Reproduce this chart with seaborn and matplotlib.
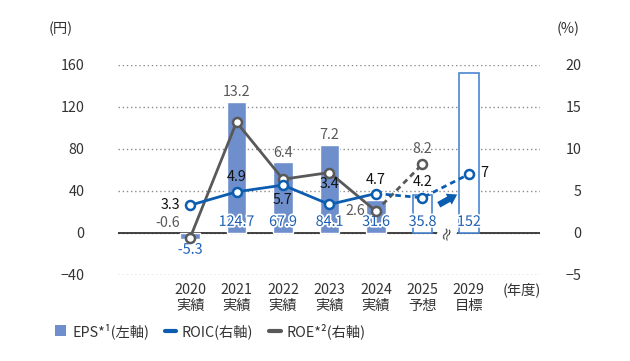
import numpy as np
import pandas as pd
import matplotlib
matplotlib.use('Agg')
import matplotlib.pyplot as plt
import seaborn as sns
import matplotlib.patheffects as pe
from matplotlib.patches import Patch
from matplotlib.lines import Line2D

sns.set_style('white')
plt.rcParams['font.family'] = ['Noto Sans CJK JP', 'DejaVu Sans']
plt.rcParams['axes.unicode_minus'] = True

# data
years = ['2020\n実績', '2021\n実績', '2022\n実績', '2023\n実績', '2024\n実績', '2025\n予想', '2029\n目標']
eps = [-5.3, 124.7, 67.9, 84.1, 31.6, 35.8, 152]
roic = [3.3, 4.9, 5.7, 3.4, 4.7, 4.2, 7]
roe = [-0.6, 13.2, 6.4, 7.2, 2.6, 8.2]
eps_labels = ['-5.3', '124.7', '67.9', '84.1', '31.6', '35.8', '152']
roic_labels = ['3.3', '4.9', '5.7', '3.4', '4.7', '4.2', '7']
roe_labels = ['-0.6', '13.2', '6.4', '7.2', '2.6', '8.2']

BAR = '#6e8fcb'
OUTLINE = '#4a86d0'
ROIC_C = '#0c5db0'
ROE_C = '#595959'
EPS_TXT = '#1c5fb4'
FS = 10.3

df = pd.DataFrame({'year': years, 'eps': eps})
idx = np.arange(len(years))

fig = plt.figure(figsize=(6.3, 3.61), dpi=100)
ax = fig.add_axes([118 / 630, 1 - 275 / 361, 422 / 630, 210 / 361])

sns.barplot(data=df, x='year', y='eps', color=BAR, width=0.42, ax=ax, saturation=1, zorder=2)
for p in ax.patches[5:]:
    p.set_facecolor('white')
    p.set_edgecolor(OUTLINE)
    p.set_linewidth(1.2)

ax.set_ylim(-40, 160)
ax.set_xlim(-1.55, 7.53)
ax.set_yticks([-40, 0, 40, 80, 120, 160])
ax.set_xlabel('')
ax.set_ylabel('')
ax.yaxis.grid(True, linestyle=(0, (1, 2)), color='#8a8a8a', lw=1)
ax.set_axisbelow(True)
ax.axhline(0, color='#333333', lw=1.3, zorder=1.5)
for s in ax.spines.values():
    s.set_visible(False)
ax.tick_params(axis='y', length=0, pad=24, labelsize=FS, labelcolor='#333333')
ax.tick_params(axis='x', length=0, pad=6, labelsize=FS, labelcolor='#333333')
for t in ax.get_xticklabels():
    t.set_linespacing(1.15)

ax2 = ax.twinx()
ax2.set_ylim(-5, 20)
ax2.set_yticks([-5, 0, 5, 10, 15, 20])
for s in ax2.spines.values():
    s.set_visible(False)
ax2.tick_params(axis='y', length=0, pad=30, labelsize=FS, labelcolor='#333333')
for t in ax2.get_yticklabels():
    t.set_horizontalalignment('right')

# ROE line
sns.lineplot(x=idx[:5], y=roe[:5], ax=ax2, color=ROE_C, lw=2, zorder=3)
sns.lineplot(x=idx[4:6], y=roe[4:6], ax=ax2, color=ROE_C, lw=2, linestyle=(0, (2, 1.5)), zorder=3)
ax2.scatter(idx[:6], roe, s=42, facecolor='white', edgecolor=ROE_C, linewidth=1.8, zorder=4)

# ROIC line
sns.lineplot(x=idx[:5], y=roic[:5], ax=ax2, color=ROIC_C, lw=2, zorder=5)
sns.lineplot(x=idx[4:], y=roic[4:], ax=ax2, color=ROIC_C, lw=2, linestyle=(0, (2, 1.5)), zorder=5)
ax2.scatter(idx, roic, s=42, facecolor='white', edgecolor=ROIC_C, linewidth=1.8, zorder=6)
ax2.set_ylabel('')

halo = [pe.withStroke(linewidth=2.5, foreground='white')]

# EPS labels
for i, (v, lab) in enumerate(zip(eps, eps_labels)):
    off = (0, 8) if v > 0 else (0, -12)
    ax.annotate(lab, (i, 0), xytext=off, textcoords='offset points', ha='center', va='center',
                fontsize=FS, color=EPS_TXT, path_effects=halo, zorder=7)

# ROIC labels
roic_off = [(-7, 0, 'right'), (0, 11, 'center'), (0, -11, 'center'), (0, 15, 'center'),
            (0, 10, 'center'), (0, 11, 'center'), (8, 1, 'left')]
for i, (lab, (dx, dy, ha)) in enumerate(zip(roic_labels, roic_off)):
    ax2.annotate(lab, (i, roic[i]), xytext=(dx, dy), textcoords='offset points', ha=ha, va='center',
                 fontsize=FS, color='#111111', zorder=7)

# ROE labels
roe_off = [(-16, 11, 'center'), (0, 22, 'center'), (0, 19, 'center'), (0, 27, 'center'),
           (-8, 0, 'right'), (0, 11, 'center')]
for i, (lab, (dx, dy, ha)) in enumerate(zip(roe_labels, roe_off)):
    ax2.annotate(lab, (i, roe[i]), xytext=(dx, dy), textcoords='offset points', ha=ha, va='center',
                 fontsize=FS, color=ROE_C, zorder=7)

# break mark and arrow
ax2.text(5.53, 0, '≈', rotation=70, ha='center', va='center', fontsize=11, color='#333333',
         bbox=dict(boxstyle='square,pad=0.05', fc='white', ec='none'), zorder=8)
ax2.annotate('', xy=(5.8, 4.75), xytext=(5.3, 3.2),
             arrowprops=dict(arrowstyle='simple,head_width=0.9,head_length=0.7,tail_width=0.45',
                             color=ROIC_C, lw=0), zorder=8)

fig.text(61 / 630, 1 - 29 / 361, '(円)', ha='center', va='center', fontsize=FS, color='#333333')
fig.text(568 / 630, 1 - 29 / 361, '(%)', ha='center', va='center', fontsize=FS, color='#333333')
fig.text(522 / 630, 1 - 290 / 361, '(年度)', ha='center', va='center', fontsize=FS, color='#333333')

handles = [Patch(facecolor=BAR, edgecolor='none'),
           Line2D([0], [0], color=ROIC_C, lw=3),
           Line2D([0], [0], color=ROE_C, lw=3)]
labels = ['EPS*¹(左軸)', 'ROIC(右軸)', 'ROE*²(右軸)']
fig.legend(handles, labels, loc='center left', bbox_to_anchor=(42 / 630, 1 - 331 / 361), ncol=3,
           frameon=False, fontsize=FS, handlelength=0.8, handleheight=0.8, handletextpad=0.4,
           columnspacing=1.1, labelcolor='#333333')

fig.savefig('out.png', dpi=100)
